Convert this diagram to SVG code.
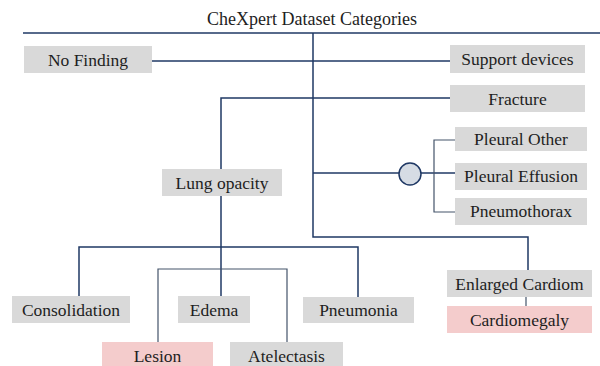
<svg xmlns="http://www.w3.org/2000/svg" width="600" height="366" viewBox="0 0 600 366">
<style>
.box{fill:#d9d9d9;}
.pink{fill:#f4cccc;}
.t{font-family:'Liberation Serif','Times New Roman',serif;font-size:17.5px;fill:#1e1e1e;text-anchor:middle;}
.title{font-family:'Liberation Serif','Times New Roman',serif;font-size:18px;fill:#1e1e1e;text-anchor:middle;}
.ln{fill:none;stroke:#1f3864;stroke-width:1.5;}
.ln2{fill:none;stroke:#44546a;stroke-width:1.2;}
</style>
<rect width="600" height="366" fill="#ffffff"/>
<text class="title" x="312" y="25">CheXpert Dataset Categories</text>
<g id="connectors">
<path class="ln" d="M23 33 H600"/>
<path class="ln" d="M313 33 V237 H528 V270"/>
<path class="ln" d="M152 61 H450"/>
<path class="ln" d="M221 169 V98 H450"/>
<path class="ln" d="M221 196 V296"/>
<path class="ln" d="M79 296 V247 H358 V297"/>
<path class="ln2" d="M158 342 V269 H287 V342"/>
<path class="ln" d="M313 173 H399"/>
<path class="ln" d="M421 173 H455"/>
<path class="ln2" d="M455 140 H434 V212 H455"/>
<path class="ln2" d="M526 297 V306"/>
</g>
<g id="n-nofinding"><rect class="box" x="24" y="46" width="128" height="27"/><text class="t" x="88" y="65.5">No Finding</text></g>
<g id="n-support"><rect class="box" x="450" y="45" width="135" height="28"/><text class="t" x="517.5" y="65">Support devices</text></g>
<g id="n-fracture"><rect class="box" x="450" y="85" width="135" height="27"/><text class="t" x="517.5" y="104.5">Fracture</text></g>
<g id="n-pleural-node"><circle cx="410" cy="174" r="11" fill="#d6dce4" stroke="#1f3864" stroke-width="1.5"/></g>
<g id="n-pleuralother"><rect class="box" x="455" y="127" width="132" height="24"/><text class="t" x="521" y="145">Pleural Other</text></g>
<g id="n-pleuraleffusion"><rect class="box" x="455" y="163" width="132" height="27"/><text class="t" x="521" y="182">Pleural Effusion</text></g>
<g id="n-pneumothorax"><rect class="box" x="455" y="198" width="132" height="27"/><text class="t" x="521" y="217">Pneumothorax</text></g>
<g id="n-lungopacity"><rect class="box" x="162" y="169" width="120" height="27"/><text class="t" x="222" y="188.5">Lung opacity</text></g>
<g id="n-consolidation"><rect class="box" x="12" y="296" width="118" height="27"/><text class="t" x="71" y="315.5">Consolidation</text></g>
<g id="n-edema"><rect class="box" x="178" y="296" width="72" height="27"/><text class="t" x="214" y="315.5">Edema</text></g>
<g id="n-pneumonia"><rect class="box" x="303" y="297" width="111" height="26"/><text class="t" x="358.5" y="316">Pneumonia</text></g>
<g id="n-lesion"><rect class="pink" x="102" y="342" width="111" height="24"/><text class="t" x="157.5" y="362">Lesion</text></g>
<g id="n-atelectasis"><rect class="box" x="230" y="342" width="113" height="24"/><text class="t" x="286.5" y="362">Atelectasis</text></g>
<g id="n-enlarged"><rect class="box" x="447" y="270" width="145" height="27"/><text class="t" x="519.5" y="289.5">Enlarged Cardiom</text></g>
<g id="n-cardiomegaly"><rect class="pink" x="447" y="306" width="145" height="27"/><text class="t" x="519.5" y="325.5">Cardiomegaly</text></g>
</svg>
